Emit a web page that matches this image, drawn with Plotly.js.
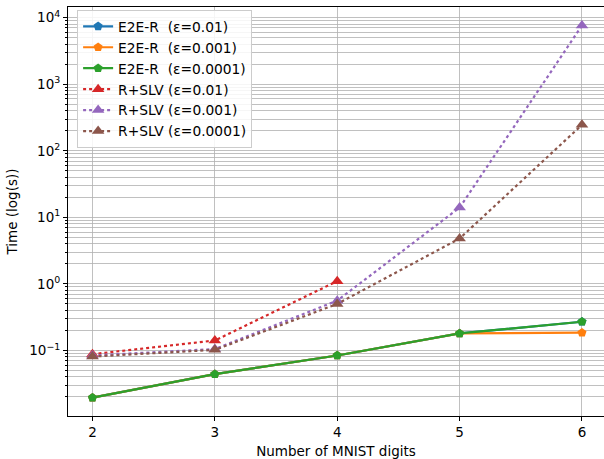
<!DOCTYPE html>
<html>
<head>
<meta charset="utf-8">
<script src="https://cdn.plot.ly/plotly-3.0.1.min.js"></script>
<style>html,body{margin:0;padding:0;background:#fff}#chart{width:604px;height:459px}</style>
</head>
<body>
<div id="chart"></div>
<script>
var digits = [2, 3, 4, 5, 6];
var e2e_001 = [0.0195, 0.044, 0.084, 0.18, 0.27];
var e2e_0001 = [0.0195, 0.044, 0.084, 0.18, 0.185];
var e2e_00001 = [0.0195, 0.044, 0.084, 0.18, 0.27];
var slv_001 = [0.088, 0.141, 1.1];
var slv_0001 = [0.084, 0.105, 0.56, 14, 7600];
var slv_00001 = [0.081, 0.102, 0.50, 4.8, 245];
var names = ['E2E-R\u00a0\u00a0(ε=0.01)', 'E2E-R\u00a0\u00a0(ε=0.001)', 'E2E-R\u00a0\u00a0(ε=0.0001)',
             'R+SLV (ε=0.01)', 'R+SLV (ε=0.001)', 'R+SLV (ε=0.0001)'];
var colors = ['#1f77b4', '#ff7f0e', '#2ca02c', '#d62728', '#9467bd', '#8c564b'];
var yTickVals = [0.1, 1, 10, 100, 1000, 10000];
var yTickText = ['10<sup>−1</sup>', '10<sup>0</sup>', '10<sup>1</sup>', '10<sup>2</sup>', '10<sup>3</sup>', '10<sup>4</sup>'];

var series = [e2e_001, e2e_0001, e2e_00001, slv_001, slv_0001, slv_00001];
var traces = series.map(function (ys, i) {
  var isE2E = i < 3;
  return {
    x: digits.slice(0, ys.length),
    y: ys,
    name: names[i],
    mode: 'lines+markers',
    type: 'scatter',
    line: {color: colors[i], width: 2.2, dash: isE2E ? 'solid' : 'dot'},
    marker: {color: colors[i], size: isE2E ? 9.5 : 11, symbol: isE2E ? 'pentagon' : 'triangle-up'}
  };
});

var minorVals = [];
for (var e = -2; e <= 4; e++) {
  for (var d = 2; d <= 9; d++) minorVals.push(d * Math.pow(10, e));
}

var layout = {
  width: 604, height: 459,
  margin: {l: 68, r: 0, t: 7, b: 43},
  paper_bgcolor: '#fff', plot_bgcolor: '#fff',
  font: {family: 'DejaVu Sans', size: 13.5, color: '#000'},
  showlegend: true,
  legend: {x: 0.017, y: 0.993, xanchor: 'left', yanchor: 'top',
           bgcolor: 'rgba(255,255,255,0.85)', bordercolor: '#cccccc', borderwidth: 1,
           font: {family: 'DejaVu Sans', size: 13.8}, tracegroupgap: 0},
  xaxis: {
    range: [1.8, 6.18], tickvals: digits, ticktext: digits.map(String),
    showline: true, linecolor: '#000', linewidth: 1, mirror: true,
    ticks: 'outside', ticklen: 4, tickcolor: '#000',
    showgrid: true, gridcolor: '#b0b0b0', gridwidth: 0.8, zeroline: false,
    title: {text: 'Number of MNIST digits', font: {size: 13.5}, standoff: 7}
  },
  yaxis: {
    type: 'log', range: [-1.985, 4.16],
    tickvals: yTickVals, ticktext: yTickText,
    showline: true, linecolor: '#000', linewidth: 1, mirror: true,
    ticks: 'outside', ticklen: 4, tickcolor: '#000',
    showgrid: true, gridcolor: '#b0b0b0', gridwidth: 0.8, zeroline: false,
    minor: {tickvals: minorVals, ticks: 'outside', ticklen: 2, tickcolor: '#000',
            showgrid: true, gridcolor: '#b0b0b0', gridwidth: 0.8},
    title: {text: 'Time (log(s))', font: {size: 13.5}, standoff: 8}
  }
};

Plotly.newPlot('chart', traces, layout, {displayModeBar: false, staticPlot: true});
</script>
</body>
</html>
